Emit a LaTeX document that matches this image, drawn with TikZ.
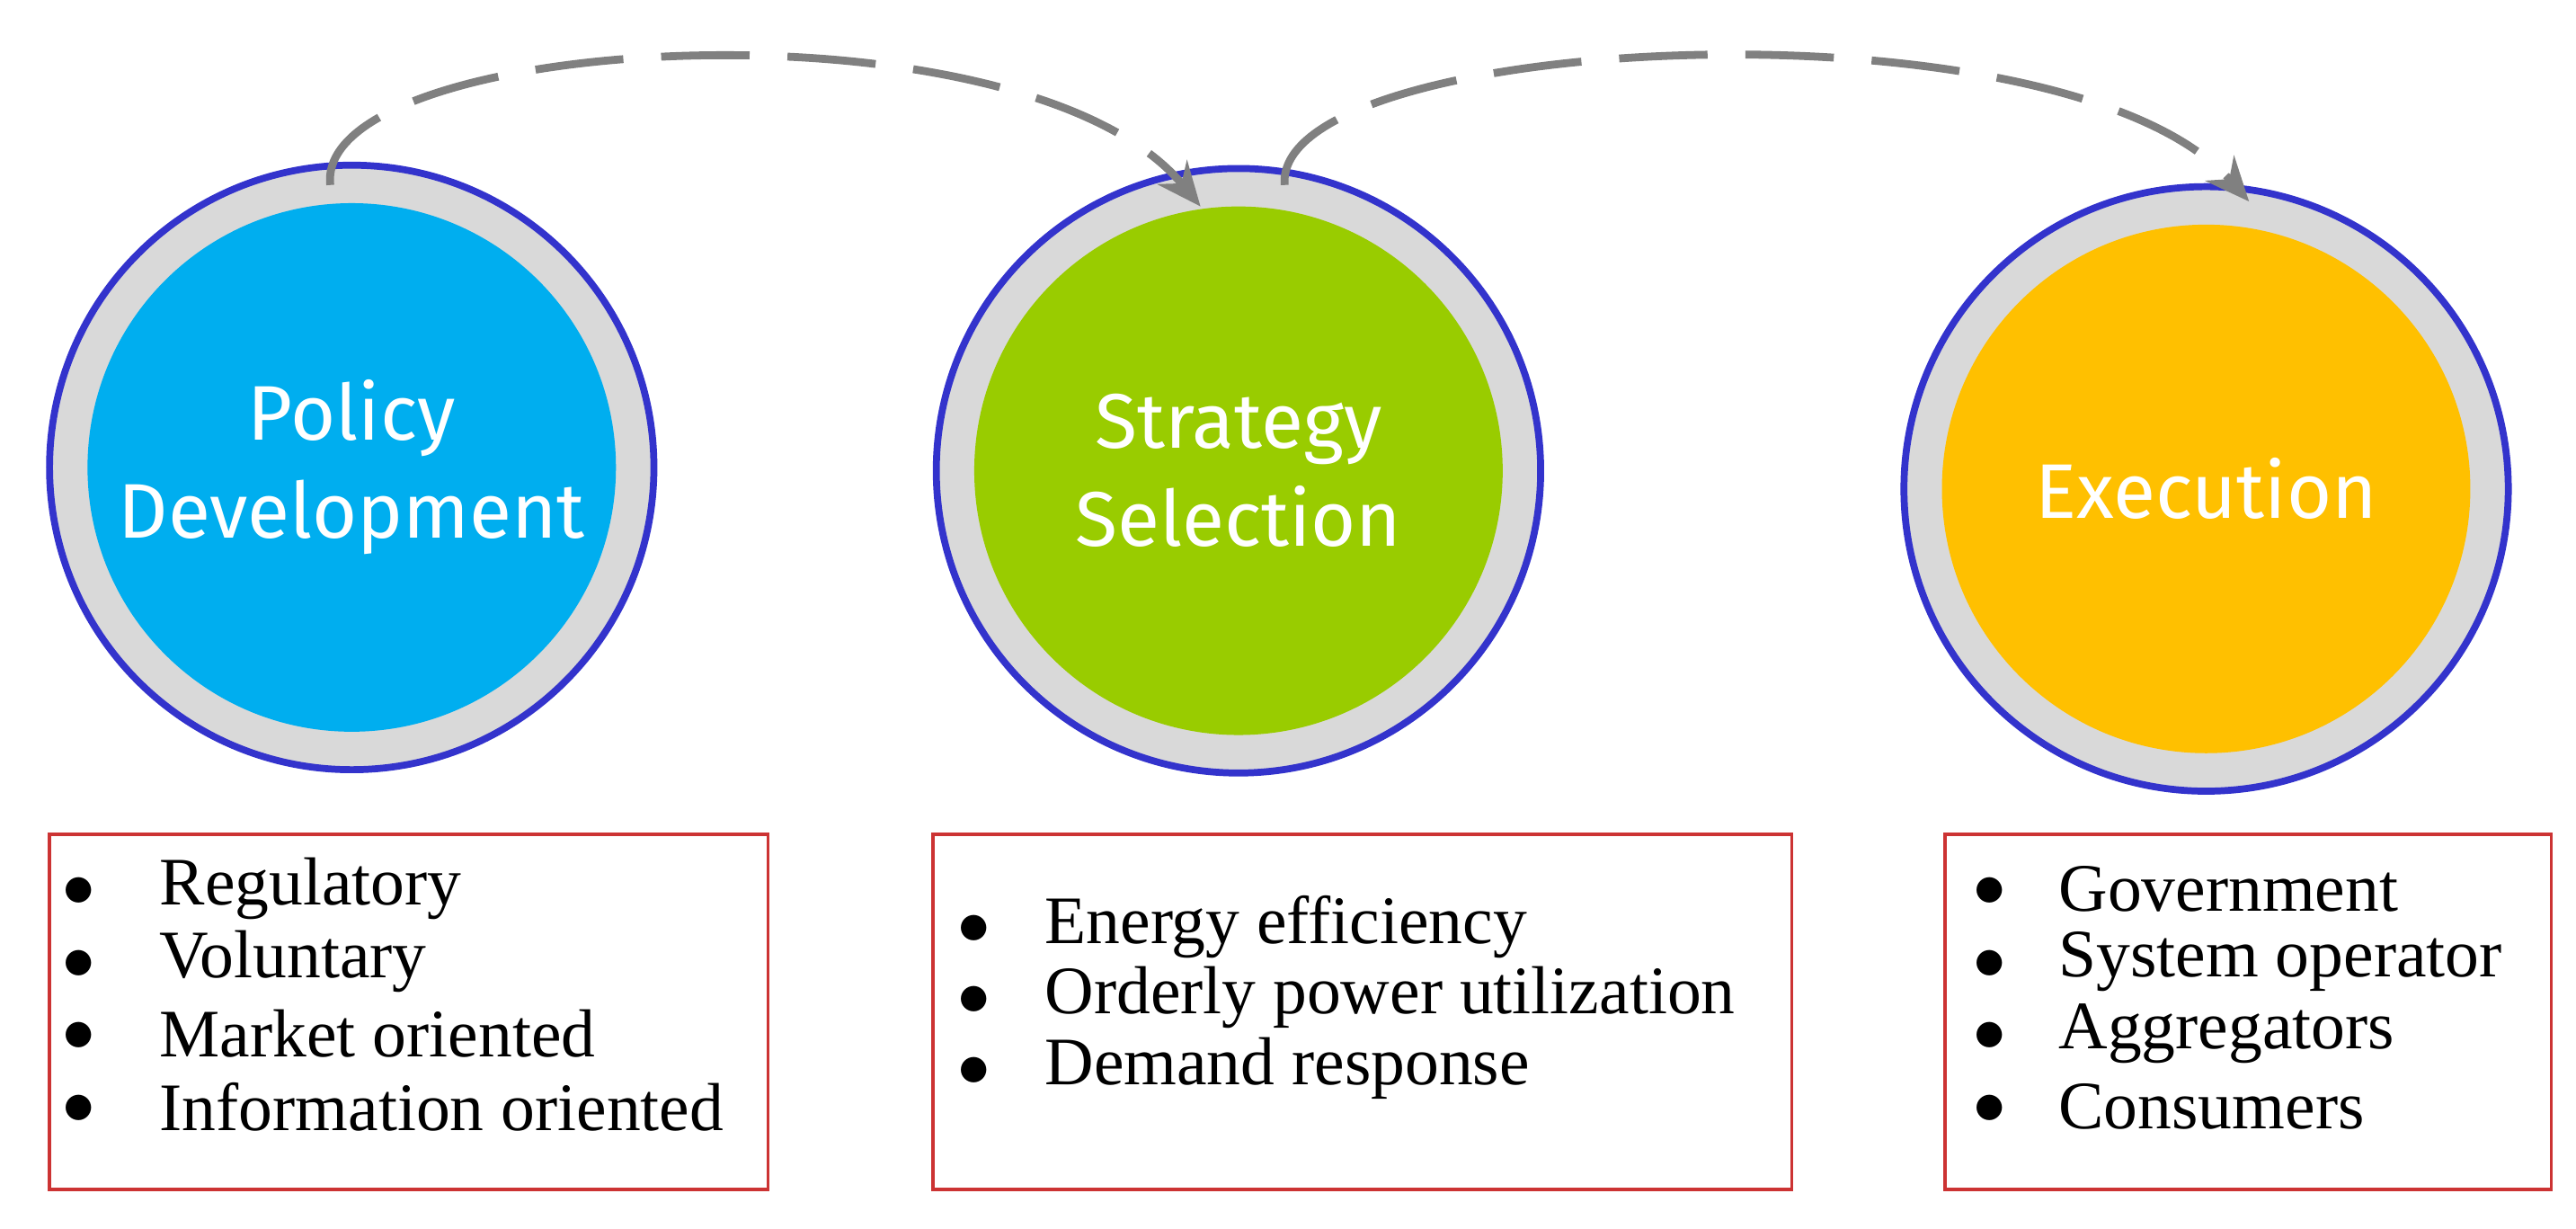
\documentclass[tikz,border=0pt]{standalone}
\usepackage{fontspec}
\setmainfont{Liberation Serif}
\newfontfamily\circfont{Fira Sans}
\usetikzlibrary{arrows.meta}
\definecolor{cblue}{HTML}{00AEEF}
\definecolor{cgreen}{HTML}{99CC00}
\definecolor{corange}{HTML}{FFC000}
\definecolor{ring}{HTML}{D9D9D9}
\definecolor{rim}{HTML}{3333CC}
\definecolor{boxred}{HTML}{CC3333}
\begin{document}
\begin{tikzpicture}[x=0.01837cm,y=-0.01837cm,
  outer/.style={circle,draw=rim,line width=2.2pt,fill=ring,minimum size=366*0.01837cm,inner sep=0},
  inner/.style={circle,minimum size=320*0.01837cm,inner sep=0},
  ctext/.style={text=white,font=\circfont\fontsize{24.5}{31}\selectfont,align=center},
  item/.style={anchor=west,font=\fontsize{21.5}{25}\selectfont},
  bul/.style={font=\fontsize{20}{24}\selectfont},
  flow/.style={draw=gray,line width=2.5pt,dash pattern=on 28pt off 12pt,-{Stealth[length=14pt,width=12pt]}}]
\useasboundingbox (0,0) rectangle (1560,744);
\node[outer] (o1) at (213,283) {};
\node[inner,fill=cblue] (c1) at (213,283) {};
\node[ctext] (t1) at (213,283) {Policy\\Development};
\node[outer] (o2) at (750,285) {};
\node[inner,fill=cgreen] (c2) at (750,285) {};
\node[ctext] (t2) at (750,285) {Strategy\\Selection};
\node[outer] (o3) at (1336,296) {};
\node[inner,fill=corange] (c3) at (1336,296) {};
\node[ctext] (t3) at (1336,296) {Execution};
\draw[draw=boxred,line width=1pt] (30,505) rectangle (465,720);
\draw[draw=boxred,line width=1pt] (565,505) rectangle (1085,720);
\draw[draw=boxred,line width=1pt] (1178,505) rectangle (1545,720);
\foreach \t [count=\i] in {Regulatory,Voluntary,Market oriented,Information oriented}{
  \node[bul] (pb\i) at (48,496+\i*44) {$\bullet$};
  \node[item] (p\i) at (90,494+\i*44) {\t};}
\foreach \t [count=\i] in {Energy efficiency,Orderly power utilization,Demand response}{
  \node[bul] (sb\i) at (590,520+\i*43) {$\bullet$};
  \node[item] (s\i) at (626,518+\i*43) {\t};}
\foreach \t [count=\i] in {Government,System operator,Aggregators,Consumers}{
  \node[bul] (eb\i) at (1205,496+\i*44) {$\bullet$};
  \node[item] (e\i) at (1240,494+\i*44) {\t};}
\coordinate (a1s) at (200,112);
\coordinate (a1e) at (727,125);
\coordinate (a2s) at (778,112);
\coordinate (a2e) at (1362,122);
\draw[flow] (a1s) .. controls (190,20) and (620,-5) .. (a1e);
\draw[flow] (a2s) .. controls (770,20) and (1250,-5) .. (a2e);
\end{tikzpicture}
\end{document}
